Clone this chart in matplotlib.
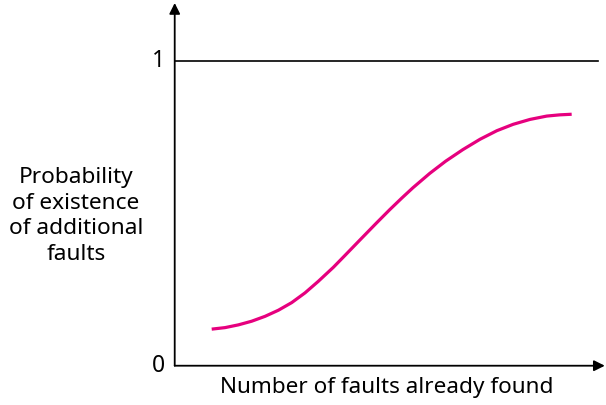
import numpy as np
import matplotlib.pyplot as plt

plt.rcParams['font.family'] = ['Noto Sans', 'DejaVu Sans']

# curve (x: share of axis length, y: probability)
faults_found = [0.086, 0.117, 0.148, 0.179, 0.210, 0.241, 0.272, 0.303, 0.334,
                0.369, 0.396, 0.431, 0.469, 0.500, 0.528, 0.554, 0.593, 0.630,
                0.670, 0.710, 0.749, 0.787, 0.826, 0.865, 0.895, 0.923]
probability = [0.120, 0.125, 0.134, 0.146, 0.162, 0.182, 0.207, 0.239, 0.277,
               0.323, 0.362, 0.413, 0.468, 0.512, 0.550, 0.584, 0.631, 0.671,
               0.709, 0.743, 0.771, 0.792, 0.808, 0.819, 0.823, 0.825]
tick_values = [0, 1]
tick_labels = ['0', '1']
y_label = 'Probability\nof existence\nof additional\nfaults'
x_label = 'Number of faults already found'

fig = plt.figure(figsize=(6.06, 4.05), dpi=100)
ax = fig.add_axes([0.2883, 0.097, 0.7097, 0.8956])
ymax = 1.19
ax.set_xlim(0, 1)
ax.set_ylim(0, ymax)
ax.axis('off')

# axes with arrow heads
arrow = dict(arrowstyle='-|>', mutation_scale=16, lw=1.3, color='black',
             shrinkA=0, shrinkB=0)
ax.annotate('', xy=(0, ymax), xytext=(0, 0), arrowprops=arrow, annotation_clip=False)
ax.annotate('', xy=(1, 0), xytext=(0, 0), arrowprops=arrow, annotation_clip=False)

# line at probability 1
ax.plot([0, 0.984], [1, 1], color='black', lw=1.2)

ax.plot(faults_found, probability, color='#E6007E', lw=2.3,
        solid_capstyle='butt', solid_joinstyle='round')

for v, t in zip(tick_values, tick_labels):
    ax.text(-0.038, v, t, ha='center', va='center', fontsize=16.5)

fig.text(76 / 606, 1 - 216 / 405, y_label, ha='center', va='center',
         fontsize=16.3, linespacing=1.28)
fig.text(387 / 606, 1 - 388 / 405, x_label, ha='center', va='center', fontsize=16.2)

fig.savefig('out.png', dpi=100)
